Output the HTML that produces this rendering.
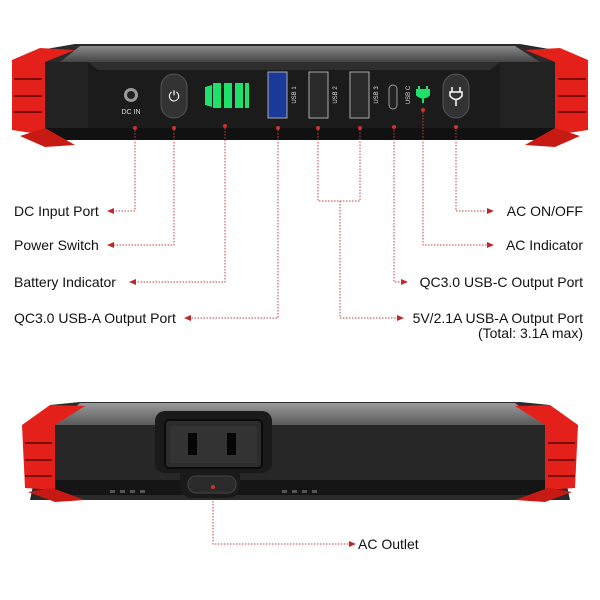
<!DOCTYPE html>
<html><head><style>
html,body{margin:0;padding:0;background:#fff;}
svg{display:block;}
text{font-family:"Liberation Sans",sans-serif;fill:#111;}
</style></head><body>
<svg width="600" height="600" viewBox="0 0 600 600" xmlns="http://www.w3.org/2000/svg">
<defs>
<linearGradient id="top" x1="0" y1="0" x2="0" y2="1"><stop offset="0" stop-color="#8a8a8a"/><stop offset="1" stop-color="#444"/></linearGradient>
<linearGradient id="top2" x1="0" y1="0" x2="0" y2="1"><stop offset="0" stop-color="#9a9a9a"/><stop offset="1" stop-color="#5a5a5a"/></linearGradient>
</defs>
<!-- TOP DEVICE -->
<polygon points="40,50 75,44 520,44 555,50 570,140 30,140" fill="#2a2a2a"/>
<polygon points="80,46 515,46 540,62 60,62" fill="url(#top)"/>
<rect x="45" y="62" width="510" height="72" fill="#222"/>
<polygon points="88,62 500,62 500,128 88,128" fill="#1b1b1b"/>
<polygon points="88,62 500,62 490,70 98,70" fill="#2e2e2e"/>
<rect x="45" y="128" width="510" height="12" fill="#111"/>
<!-- red caps -->
<polygon points="12,60 40,48 75,50 45,62 45,135 12,130" fill="#e32019"/>
<rect x="14" y="62" width="28" height="66" fill="#e32019"/>
<g stroke="#7a0c08" stroke-width="2"><line x1="14" y1="79" x2="42" y2="79"/><line x1="14" y1="96" x2="42" y2="96"/><line x1="14" y1="112" x2="42" y2="112"/></g>
<polygon points="45,128 75,145 45,147 20,136" fill="#c81a14"/>
<polygon points="588,60 560,48 525,50 555,62 555,135 588,130" fill="#e32019"/>
<rect x="558" y="62" width="28" height="66" fill="#e32019"/>
<g stroke="#7a0c08" stroke-width="2"><line x1="558" y1="79" x2="586" y2="79"/><line x1="558" y1="96" x2="586" y2="96"/><line x1="558" y1="112" x2="586" y2="112"/></g>
<polygon points="555,128 525,145 555,147 580,136" fill="#c81a14"/>
<!-- DC IN -->
<circle cx="131" cy="95" r="7" fill="#999"/><circle cx="131" cy="95" r="4" fill="#222"/>
<text x="131" y="114" font-size="7" text-anchor="middle" style="fill:#ddd">DC IN</text>
<!-- power button -->
<rect x="161" y="74" width="26" height="44" rx="13" fill="#333" stroke="#555"/>
<text x="174" y="101" font-size="14" text-anchor="middle" style="fill:#fff">⏻</text>
<!-- battery -->
<g fill="#1fe06a"><polygon points="205,87 212,85 212,107 205,105"/><rect x="213" y="83" width="8" height="25"/><rect x="224" y="83" width="8" height="25"/><rect x="235" y="83" width="8" height="25"/><rect x="245" y="83" width="4" height="25"/></g>
<!-- USB ports -->
<rect x="268" y="72" width="19" height="46" fill="#1a3a9a" stroke="#aaa"/>
<rect x="309" y="72" width="19" height="46" fill="#2a2a2a" stroke="#aaa"/>
<rect x="350" y="72" width="19" height="46" fill="#2a2a2a" stroke="#aaa"/>
<g font-size="6">
<text transform="translate(296,95) rotate(-90)" text-anchor="middle" style="fill:#ddd">USB 1</text>
<text transform="translate(337,95) rotate(-90)" text-anchor="middle" style="fill:#ddd">USB 2</text>
<text transform="translate(378,95) rotate(-90)" text-anchor="middle" style="fill:#ddd">USB 3</text>
<text transform="translate(410,95) rotate(-90)" text-anchor="middle" style="fill:#ddd">USB C</text>
</g>
<rect x="389" y="85" width="8" height="24" rx="4" fill="#222" stroke="#999"/>
<path d="M419,86 v4 M427,86 v4 M417,90 h12 v5 q-6,5 -12,0 z M423,95 v8" stroke="#1fe06a" stroke-width="2" fill="#1fe06a"/>
<rect x="443" y="74" width="26" height="44" rx="13" fill="#333" stroke="#555"/>
<path d="M452,87 v5 M460,87 v5 M450,92 h12 v4 q-6,7 -12,0 z M456,99 v7" stroke="#fff" stroke-width="1.5" fill="none"/>
<!-- dots -->
<g fill="#d03030"><circle cx="135" cy="128" r="2"/><circle cx="174" cy="128" r="2"/><circle cx="225" cy="126" r="2"/><circle cx="278" cy="128" r="2"/><circle cx="318" cy="128" r="2"/><circle cx="360" cy="128" r="2"/><circle cx="394" cy="127" r="2"/><circle cx="423" cy="110" r="2"/><circle cx="456" cy="127" r="2"/></g>
<!-- connectors -->
<g stroke="#c04040" stroke-width="1" stroke-dasharray="1.5,1.5" fill="none">
<path d="M135,130 V211 H113"/>
<path d="M174,130 V245 H113"/>
<path d="M225,128 V282 H135"/>
<path d="M278,130 V318 H190"/>
<path d="M318,130 V201 H360 V130 M340,201 V318 H398"/>
<path d="M394,130 V282 H404"/>
<path d="M423,112 V245 H490"/>
<path d="M456,130 V211 H486"/>
<path d="M213,489 V544 H350"/>
</g>
<g fill="#c02828">
<polygon points="107,211 114,208 114,214"/>
<polygon points="107,245 114,242 114,248"/>
<polygon points="129,282 136,279 136,285"/>
<polygon points="184,318 191,315 191,321"/>
<polygon points="404,318 397,315 397,321"/>
<polygon points="408,282 401,279 401,285"/>
<polygon points="494,245 487,242 487,248"/>
<polygon points="494,211 487,208 487,214"/>
<polygon points="356,544 349,541 349,547"/>
</g>
<g font-size="14">
<text x="14" y="216">DC Input Port</text>
<text x="14" y="250">Power Switch</text>
<text x="14" y="287">Battery Indicator</text>
<text x="14" y="323">QC3.0 USB-A Output Port</text>
<text x="583" y="216" text-anchor="end">AC ON/OFF</text>
<text x="583" y="250" text-anchor="end">AC Indicator</text>
<text x="583" y="287" text-anchor="end">QC3.0 USB-C Output Port</text>
<text x="583" y="323" text-anchor="end">5V/2.1A USB-A Output Port</text>
<text x="583" y="338" text-anchor="end">(Total: 3.1A max)</text>
<text x="358" y="549">AC Outlet</text>
</g>
<!-- BOTTOM DEVICE -->
<polygon points="50,405 80,402 520,402 550,405 570,500 30,500" fill="#2a2a2a"/>
<polygon points="80,403 515,403 545,425 55,425" fill="url(#top2)"/>
<rect x="55" y="425" width="490" height="65" fill="#272727"/>
<rect x="55" y="480" width="490" height="15" fill="#151515"/>
<polygon points="22,425 50,405 85,406 55,425 55,490 25,488" fill="#e32019"/>
<rect x="25" y="425" width="27" height="63" fill="#e32019"/>
<g stroke="#7a0c08" stroke-width="2"><line x1="25" y1="443" x2="52" y2="443"/><line x1="25" y1="460" x2="52" y2="460"/><line x1="25" y1="476" x2="52" y2="476"/></g>
<polygon points="52,488 85,500 55,502 28,492" fill="#c81a14"/>
<polygon points="578,425 550,405 515,406 545,425 545,490 575,488" fill="#e32019"/>
<rect x="548" y="425" width="27" height="63" fill="#e32019"/>
<g stroke="#7a0c08" stroke-width="2"><line x1="548" y1="443" x2="575" y2="443"/><line x1="548" y1="460" x2="575" y2="460"/><line x1="548" y1="476" x2="575" y2="476"/></g>
<polygon points="548,488 515,500 545,502 572,492" fill="#c81a14"/>
<g fill="#555"><rect x="110" y="490" width="5" height="3"/><rect x="120" y="490" width="5" height="3"/><rect x="130" y="490" width="5" height="3"/><rect x="140" y="490" width="5" height="3"/><rect x="282" y="490" width="5" height="3"/><rect x="292" y="490" width="5" height="3"/><rect x="302" y="490" width="5" height="3"/><rect x="312" y="490" width="5" height="3"/></g>
<rect x="155" y="411" width="117" height="62" rx="10" fill="#1a1a1a"/>
<rect x="165" y="420" width="97" height="48" rx="4" fill="#2c2c2c" stroke="#0a0a0a" stroke-width="2"/>
<rect x="170" y="426" width="87" height="37" fill="#333"/>
<rect x="188" y="433" width="9" height="22" fill="#050505"/>
<rect x="227" y="433" width="9" height="22" fill="#050505"/>
<path d="M180,473 H240 V485 Q240,498 226,498 H194 Q180,498 180,485 Z" fill="#1a1a1a"/>
<rect x="188" y="476" width="48" height="17" rx="8" fill="#2a2a2a" stroke="#444"/>
<circle cx="213" cy="487" r="2" fill="#d03030"/>
</svg>
</body></html>
